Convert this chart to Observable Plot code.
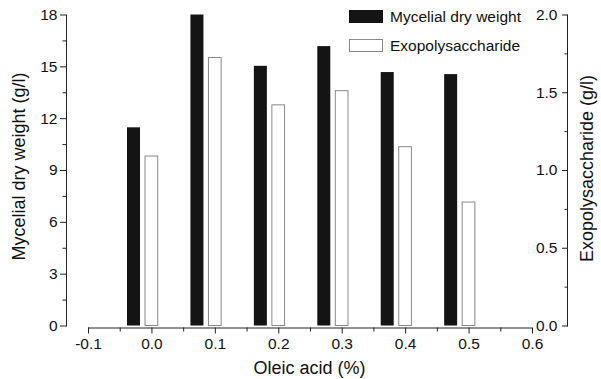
<!DOCTYPE html>
<html><head><meta charset="utf-8">
<script src="https://cdn.jsdelivr.net/npm/d3@7"></script>
<script src="https://cdn.jsdelivr.net/npm/@observablehq/plot@0.6"></script>
<style>
body{margin:0;background:#fff;}
#wrap{position:relative;width:601px;height:379px;font-family:"Liberation Sans",Arial,sans-serif;}
.leg{position:absolute;left:349px;height:13px;display:flex;align-items:center;font-size:15.5px;color:#111;white-space:nowrap;}
.sw{width:34px;height:13px;box-sizing:border-box;margin-right:7px;flex:none;}
</style></head><body><div id="wrap"></div>
<script>
const oleic = [0.0, 0.1, 0.2, 0.3, 0.4, 0.5];
const mycelial = [11.47, 18.0, 15.03, 16.17, 14.67, 14.55];
const eps = [1.09, 1.723, 1.419, 1.51, 1.15, 0.794];
const leftTicks = [0, 3, 6, 9, 12, 15, 18];
const leftMinor = [1.5, 4.5, 7.5, 10.5, 13.5, 16.5];
const rightTicks = [0, 0.5, 1.0, 1.5, 2.0];
const rightMinor = [0.25, 0.75, 1.25, 1.75];
const xTicks = [-0.1, 0, 0.1, 0.2, 0.3, 0.4, 0.5, 0.6];
const xMinor = [-0.05, 0.05, 0.15, 0.25, 0.35, 0.45, 0.55];
const seriesNames = ["Mycelial dry weight", "Exopolysaccharide"];
const ratio = 9; // right axis 2.0 <-> left axis 18

const data = oleic.map((x, i) => ({x, m: mycelial[i], e: eps[i]}));

const plot = Plot.plot({
  width: 601, height: 379,
  marginLeft: 66, marginRight: 34, marginTop: 14.5, marginBottom: 53.5,
  style: {fontFamily: '"Liberation Sans", Arial, sans-serif', color: "#111", background: "transparent"},
  x: {domain: [xTicks[0], xTicks[xTicks.length - 1]], range: [88, 532]},
  y: {domain: [0, 18], range: [325.5, 14.5]},
  marks: [
    Plot.rectY(data, {x1: d => d.x - 0.0385, x2: d => d.x - 0.018, y: "m", fill: "#141414"}),
    Plot.rectY(data, {x1: d => d.x - 0.0101, x2: d => d.x + 0.0099, y: d => d.e * ratio, fill: "white", stroke: "#888", strokeWidth: 1}),
    Plot.frame({anchor: "left", stroke: "#222"}),
    Plot.frame({anchor: "right", stroke: "#222"}),
    Plot.ruleY([0], {x1: xTicks[0], x2: xTicks[xTicks.length - 1], dy: 2, stroke: "#222"}),
    Plot.axisY(leftTicks, {anchor: "left", tickSize: 6, tickPadding: 3, fontSize: 15.5, label: null, stroke: "#222"}),
    Plot.axisY(leftMinor, {anchor: "left", tickSize: 3.5, tickFormat: () => "", label: null, stroke: "#222"}),
    Plot.axisY(rightTicks.map(v => v * ratio), {anchor: "right", tickSize: -6, tickPadding: -4, textAnchor: "end", fontSize: 15.5, tickFormat: d => (d / ratio).toFixed(1), label: null, stroke: "#222"}),
    Plot.axisY(rightMinor.map(v => v * ratio), {anchor: "right", tickSize: -3.5, tickFormat: () => "", label: null, stroke: "#222"}),
    Plot.axisX(xTicks, {anchor: "bottom", tickSize: 6, tickPadding: 3.5, dy: 2, fontSize: 15.5, tickFormat: d => d.toFixed(1), label: null, stroke: "#222"}),
    Plot.axisX(xMinor, {anchor: "bottom", tickSize: 4, dy: 2, tickFormat: () => "", label: null, stroke: "#222"}),
    Plot.text(["Mycelial dry weight (g/l)"], {text: d => d, frameAnchor: "left", textAnchor: "middle", lineAnchor: "middle", dx: -47, dy: -4, rotate: -90, fontSize: 18}),
    Plot.text(["Exopolysaccharide (g/l)"], {text: d => d, frameAnchor: "right", textAnchor: "middle", lineAnchor: "middle", dx: 20, dy: -2, rotate: -90, fontSize: 18}),
    Plot.text(["Oleic acid (%)"], {text: d => d, frameAnchor: "bottom", textAnchor: "middle", lineAnchor: "middle", dx: -7.5, dy: 42, fontSize: 18})
  ]
});
const wrap = document.getElementById("wrap");
wrap.appendChild(plot);

const legendTops = [10, 39];
const legendStyles = [
  "background:#141414;",
  "background:#fff;border:1px solid #888;"
];
seriesNames.forEach((name, i) => {
  const row = document.createElement("div");
  row.className = "leg";
  row.style.top = legendTops[i] + "px";
  row.innerHTML = `<div class="sw" style="${legendStyles[i]}"></div><span>${name}</span>`;
  wrap.appendChild(row);
});
</script></body></html>
